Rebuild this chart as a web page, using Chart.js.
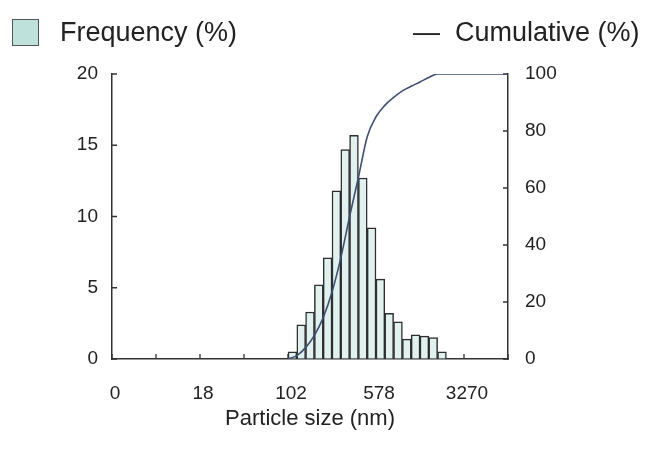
<!DOCTYPE html>
<html>
<head>
<meta charset="utf-8">
<script src="https://cdn.jsdelivr.net/npm/chart.js@4.4.1/dist/chart.umd.min.js"></script>
<style>
  body { margin: 0; background: #fff; }
  #wrap { position: relative; width: 645px; height: 452px; font-family: "Liberation Sans", Arial, sans-serif; color: #222; }
  #wrap canvas { position: absolute; left: 0; top: 0; }
  .lg { position: absolute; font-size: 27px; line-height: 27px; white-space: nowrap; }
  .swatch { position: absolute; left: 12px; top: 19px; width: 27px; height: 27px; background: #bfe1dc; border: 1px solid #555; box-sizing: border-box; }
</style>
</head>
<body>
<div id="wrap">
  <canvas id="psd-chart" width="645" height="452"></canvas>
  <div class="swatch"></div>
  <div class="lg" style="left:60px; top:19px;">Frequency (%)</div>
  <div class="lg" style="left:413px; top:19px;">—</div>
  <div class="lg" style="left:455px; top:19px;">Cumulative (%)</div>
</div>
<script>
// x axis is in size-class units, 45 classes, labels every 10 classes
var sizeLabels = ["0", "18", "102", "578", "3270"];
var firstBin = 20;
var frequency = [0.5, 2.4, 3.3, 5.2, 7.1, 11.8, 14.7, 15.7, 12.7, 9.2, 5.6, 3.2, 2.6, 1.4, 1.7, 1.6, 1.5, 0.5];
// cumulative read at class edges 20..37, then flat to the end
var cumEdges = [20, 21, 22, 23, 24, 25, 26, 27, 28, 29, 30, 31, 32, 33, 34, 35, 36, 37, 45];
var cumulative = [0, 1.2, 4, 8.3, 14.5, 23.5, 35.5, 50, 63.7, 78, 85, 89, 91.8, 94.1, 95.7, 97.2, 98.8, 100, 100];

var freqPoints = frequency.map(function (v, i) {
  return { x: firstBin + i + 0.5, y: v };
});
var cumPoints = cumulative.map(function (v, i) {
  return { x: cumEdges[i], y: v };
});

// tick marks drawn inside the plot, like the original
const innerTicks = {
  id: "innerTicks",
  beforeDatasetsDraw(chart) {
    const ctx = chart.ctx;
    const len = 5;
    ctx.save();
    ctx.strokeStyle = "#333";
    ctx.lineWidth = 1.3;
    ctx.beginPath();
    const x = chart.scales.x;
    x.ticks.forEach((t) => {
      const px = x.getPixelForValue(t.value);
      ctx.moveTo(px, x.top);
      ctx.lineTo(px, x.top - len);
    });
    const y = chart.scales.y;
    y.ticks.forEach((t) => {
      const py = y.getPixelForValue(t.value);
      ctx.moveTo(y.right, py);
      ctx.lineTo(y.right + len, py);
    });
    const y1 = chart.scales.y1;
    y1.ticks.forEach((t) => {
      const py = y1.getPixelForValue(t.value);
      ctx.moveTo(y1.left, py);
      ctx.lineTo(y1.left - len, py);
    });
    ctx.stroke();
    ctx.restore();
  },
};

var tickFont = { family: "Liberation Sans", size: 19 };

var ctx = document.getElementById("psd-chart");
var myChart = new Chart(ctx, {
  data: {
    datasets: [
      {
        type: "line",
        label: "Cumulative (%)",
        data: cumPoints,
        yAxisID: "y1",
        borderColor: "#3d4f73",
        borderWidth: 1.6,
        pointRadius: 0,
        cubicInterpolationMode: "monotone",
        fill: false,
        order: 1,
      },
      {
        type: "bar",
        label: "Frequency (%)",
        data: freqPoints,
        yAxisID: "y",
        backgroundColor: "#e1f2ee",
        borderColor: "#2e2e2e",
        borderWidth: 1.5,
        barPercentage: 1,
        categoryPercentage: 1,
        order: 2,
      },
    ],
  },
  options: {
    responsive: false,
    animation: false,
    devicePixelRatio: 1,
    layout: { padding: { top: 74, left: 0, right: 0, bottom: 0 } },
    plugins: {
      legend: { display: false },
      tooltip: { enabled: false },
    },
    scales: {
      x: {
        type: "linear",
        min: 0,
        max: 45,
        offset: false,
        afterFit: (scale) => { scale.height = 93; },
        grid: { drawOnChartArea: false, drawTicks: false, offset: false },
        border: { color: "#333", width: 1.5 },
        ticks: {
          stepSize: 5,
          autoSkip: false,
          maxRotation: 0,
          padding: 23,
          labelOffset: 3,
          color: "#222",
          font: tickFont,
          callback: (v) => (v % 10 === 0 && v / 10 < sizeLabels.length ? sizeLabels[v / 10] : ""),
        },
        title: {
          display: true,
          text: "Particle size (nm)",
          color: "#222",
          font: { family: "Liberation Sans", size: 22 },
          padding: { top: 0, bottom: 20 },
        },
      },
      y: {
        position: "left",
        min: 0,
        max: 20,
        afterFit: (scale) => { scale.width = 112; },
        grid: { drawOnChartArea: false, drawTicks: false },
        border: { color: "#333", width: 1.5 },
        ticks: { stepSize: 5, padding: 14, color: "#222", font: tickFont },
      },
      y1: {
        position: "right",
        min: 0,
        max: 100,
        afterFit: (scale) => { scale.width = 137; },
        grid: { drawOnChartArea: false, drawTicks: false },
        border: { color: "#333", width: 1.5 },
        ticks: { stepSize: 20, padding: 17, color: "#222", font: tickFont },
      },
    },
  },
  plugins: [innerTicks],
});
</script>
</body>
</html>
